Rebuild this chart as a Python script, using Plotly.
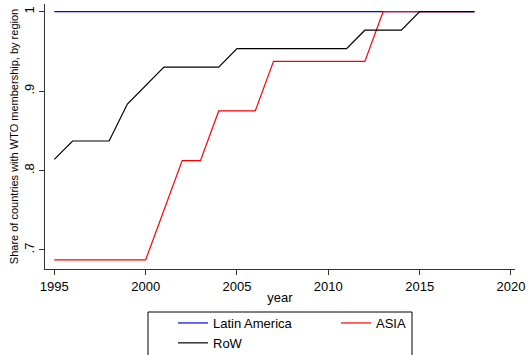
import plotly.graph_objects as go

years = list(range(1995, 2019))
latin_america = [1.0] * 24
asia = [0.6875, 0.6875, 0.6875, 0.6875, 0.6875, 0.6875, 0.75, 0.8125, 0.8125,
        0.875, 0.875, 0.875, 0.9375, 0.9375, 0.9375, 0.9375, 0.9375, 0.9375,
        1.0, 1.0, 1.0, 1.0, 1.0, 1.0]
row = [0.8140, 0.8372, 0.8372, 0.8372, 0.8837, 0.9070, 0.9302, 0.9302, 0.9302,
       0.9302, 0.9535, 0.9535, 0.9535, 0.9535, 0.9535, 0.9535, 0.9535, 0.9767,
       0.9767, 0.9767, 1.0, 1.0, 1.0, 1.0]
x_ticks = [1995, 2000, 2005, 2010, 2015, 2020]
y_ticks = [0.7, 0.8, 0.9, 1.0]
y_ticktext = [".7", ".8", ".9", "1"]

FONT = "Liberation Sans, Arial, sans-serif"
W, H = 527, 355

fig = go.Figure()
fig.add_trace(go.Scatter(x=years, y=latin_america, mode="lines", name="Latin America",
                         line=dict(color="#0000ff", width=1.2), legend="legend"))
fig.add_trace(go.Scatter(x=years, y=asia, mode="lines", name="ASIA",
                         line=dict(color="#ff0000", width=1.2), legend="legend2"))
fig.add_trace(go.Scatter(x=years, y=row, mode="lines", name="RoW",
                         line=dict(color="#000000", width=1.2), legend="legend"))

fig.update_layout(
    width=W, height=H,
    margin=dict(l=45, r=12, t=4, b=86),
    paper_bgcolor="white", plot_bgcolor="white",
    font=dict(family=FONT, color="black", size=13),
    xaxis=dict(range=[1994.49, 2020.22], tickvals=x_ticks, showgrid=False, zeroline=False,
               showline=True, linecolor="#333333", linewidth=1, ticks="outside",
               ticklen=5, tickcolor="#333333", tickfont=dict(size=13), automargin=False,
               title=dict(text="year", font=dict(size=13), standoff=0)),
    yaxis=dict(range=[0.676, 1.0097], tickvals=y_ticks, ticktext=y_ticktext, tickangle=-90,
               showgrid=False, zeroline=False, showline=True, linecolor="#333333",
               linewidth=1, ticks="outside", ticklen=5, tickcolor="#333333",
               tickfont=dict(size=13), automargin=False,
               title=dict(text="Share of countries with WTO membership, by region",
                          font=dict(size=11), standoff=0)),
    legend=dict(xref="paper", yref="container", x=(173 - 45) / 470, xanchor="left",
                y=1 - 308 / H, yanchor="top", orientation="v",
                bgcolor="rgba(0,0,0,0)", font=dict(size=13), tracegroupgap=0),
    legend2=dict(xref="paper", yref="container", x=(336 - 45) / 470, xanchor="left",
                 y=1 - 308 / H, yanchor="top", orientation="v",
                 bgcolor="rgba(0,0,0,0)", font=dict(size=13)),
    shapes=[dict(type="rect", xref="paper", yref="paper",
                 x0=(148 - 45) / 470, x1=(412 - 45) / 470,
                 y0=(269 - 312) / 265, y1=(269 - 380) / 265,
                 line=dict(color="black", width=1))],
)

fig.write_html("out.html", config={"displayModeBar": False},
               post_script="document.body.style.margin='0px';")
